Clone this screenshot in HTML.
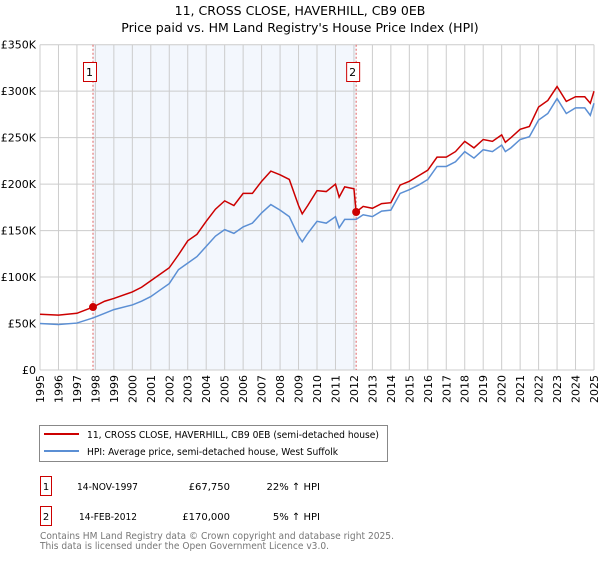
<!DOCTYPE html>
<html><head><meta charset="utf-8"><style>
body{margin:0;background:#fff;font-family:"Liberation Sans","DejaVu Sans",sans-serif;}
svg text{font-family:"DejaVu Sans","Liberation Sans",sans-serif;}
</style></head><body>
<svg id="c" width="600" height="560" xmlns="http://www.w3.org/2000/svg">
<text x="300" y="15" text-anchor="middle" font-size="12.5">11, CROSS CLOSE, HAVERHILL, CB9 0EB</text>
<text x="300" y="32" text-anchor="middle" font-size="12.5">Price paid vs. HM Land Registry's House Price Index (HPI)</text>
<g id="plot"></g>
<rect x="39.5" y="425.5" width="348" height="36" fill="none" stroke="#888"/>
<line x1="44" y1="434" x2="79" y2="434" stroke="#cc0000" stroke-width="2"/>
<text x="87" y="438" font-size="10" textLength="292" lengthAdjust="spacingAndGlyphs">11, CROSS CLOSE, HAVERHILL, CB9 0EB (semi-detached house)</text>
<line x1="44" y1="451" x2="79" y2="451" stroke="#5b8fd4" stroke-width="2"/>
<text x="87" y="455" font-size="10" textLength="251" lengthAdjust="spacingAndGlyphs">HPI: Average price, semi-detached house, West Suffolk</text>
<g font-size="10">
<rect x="40.5" y="476.5" width="11" height="19" fill="#fff" stroke="#cc0000"/>
<text x="46" y="490" text-anchor="middle">1</text>
<text x="77" y="490" textLength="61" lengthAdjust="spacingAndGlyphs">14-NOV-1997</text>
<text x="230" y="490" text-anchor="end">£67,750</text>
<text x="320" y="490" text-anchor="end">22% ↑ HPI</text>
<rect x="40.5" y="506.5" width="11" height="19" fill="#fff" stroke="#cc0000"/>
<text x="46" y="520" text-anchor="middle">2</text>
<text x="79" y="520" textLength="58" lengthAdjust="spacingAndGlyphs">14-FEB-2012</text>
<text x="230" y="520" text-anchor="end">£170,000</text>
<text x="320" y="520" text-anchor="end">5% ↑ HPI</text>
</g>
<text x="40" y="539" font-size="10" fill="#777" textLength="354" lengthAdjust="spacingAndGlyphs">Contains HM Land Registry data © Crown copyright and database right 2025.</text>
<text x="40" y="549" font-size="10" fill="#777" textLength="289" lengthAdjust="spacingAndGlyphs">This data is licensed under the Open Government Licence v3.0.</text>
</svg>
<script>
const yearTicks=[1995,1996,1997,1998,1999,2000,2001,2002,2003,2004,2005,2006,2007,2008,2009,2010,2011,2012,2013,2014,2015,2016,2017,2018,2019,2020,2021,2022,2023,2024,2025];
const valueTicks=[0,50000,100000,150000,200000,250000,300000,350000];
const valueLabels=["£0","£50K","£100K","£150K","£200K","£250K","£300K","£350K"];
const hpiDates=[1995,1996,1997,1997.87,1998.5,1999,2000,2000.5,2001,2001.5,2002,2002.5,2003,2003.5,2004,2004.5,2005,2005.5,2006,2006.5,2007,2007.5,2008,2008.5,2009,2009.2,2009.5,2010,2010.5,2011,2011.2,2011.5,2012,2012.12,2012.5,2013,2013.5,2014,2014.5,2015,2015.5,2016,2016.5,2017,2017.5,2018,2018.5,2019,2019.5,2020,2020.2,2020.5,2021,2021.5,2022,2022.5,2023,2023.5,2024,2024.5,2024.8,2025];
const hpiValues=[50,49,50.5,56,61,65,70,74,79,86,93,108,115,122,133,144,151,147,154,158,169,178,172,165,144,138,147,160,158,165,153,162,162,162,167,165,171,172,190,194,199,205,219,219,224,235,228,237,235,242,235,239,248,251,269,276,292,276,282,282,274,287];
const propertyValues=[60,59,61,67.75,74,77,84,89,96,103,110,124,139,146,160,173,182,177,190,190,203,214,210,205,177,168,177,193,192,200,186,197,195,170,176,174,179,180,199,203,209,215,229,229,235,246,239,248,246,253,245,250,259,262,283,290,305,289,294,294,287,300];
const saleDates=[1997.87,2012.12];
const salePrices=[67750,170000];
const saleLabels=["1","2"];
const X0=40,X1=594,Y0=370,Y1=44.7;
const xs=t=>X0+(t-1995)/30*(X1-X0);
const ys=v=>Y0-v/350000*(Y0-Y1);
const NS="http://www.w3.org/2000/svg";
const g=document.getElementById('plot');
function mk(tag,attrs){const e=document.createElementNS(NS,tag);for(const k in attrs)e.setAttribute(k,attrs[k]);g.appendChild(e);return e;}
let r=mk('rect',{x:xs(saleDates[0]),y:Y1,width:xs(saleDates[1])-xs(saleDates[0]),height:Y0-Y1,fill:'#eef3fc',opacity:0.7});


yearTicks.forEach(t=>{
 const l=mk('line',{x1:xs(t),x2:xs(t),y1:Y1,y2:Y0,stroke:'#ccc'});
 
 
 const tx=mk('text',{x:0,y:0,'font-size':11,'text-anchor':'end',transform:`translate(${xs(t)+4},${Y0+5}) rotate(-90)`});
 tx.textContent=t;
 
 
});
valueTicks.forEach((v,i)=>{
 const l=mk('line',{x1:X0,x2:X1,y1:ys(v),y2:ys(v),stroke:'#ccc'});
 
 
 const tx=mk('text',{x:X0-4,y:ys(v)+4,'font-size':11,'text-anchor':'end'});
 tx.textContent=valueLabels[i];
 
 
});
saleDates.forEach((d,i)=>{
 const l=mk('line',{x1:xs(d),x2:xs(d),y1:Y1,y2:Y0,stroke:'#e06060','stroke-dasharray':'2,2'});
 
 
 const b=mk('rect',{x:xs(d)-10+0.5,y:62.5,width:13,height:19,fill:'#fff',stroke:'#cc0000'});
 
 
 const t=mk('text',{x:xs(d)-3.5,y:76,'font-size':11,'text-anchor':'middle'});
 t.textContent=saleLabels[i];
 
 
});
const hp=mk('polyline',{points:hpiDates.map((d,i)=>xs(d)+','+ys(hpiValues[i]*1000)).join(' '),fill:'none',stroke:'#5b8fd4','stroke-width':1.5});


const pp=mk('polyline',{points:hpiDates.map((d,i)=>xs(d)+','+ys(propertyValues[i]*1000)).join(' '),fill:'none',stroke:'#cc0000','stroke-width':1.5});


saleDates.forEach((d,i)=>{
 const c=mk('circle',{cx:xs(d),cy:ys(salePrices[i]),r:4,fill:'#cc0000'});
 
 
});
</script>
</body></html>
